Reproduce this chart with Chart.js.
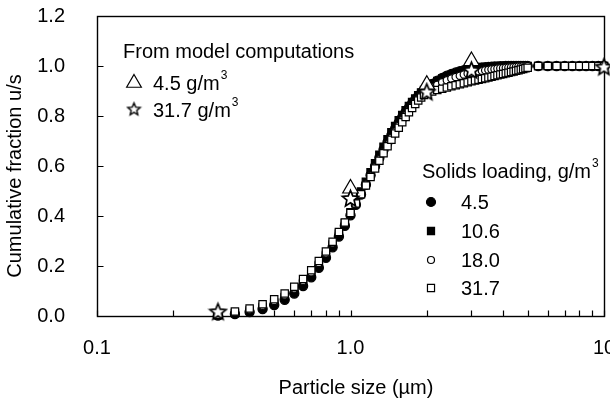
<!DOCTYPE html>
<html>
<head>
<meta charset="utf-8">
<script src="https://cdn.jsdelivr.net/npm/chart.js@4.4.0/dist/chart.umd.min.js"></script>
<style>
  html, body { margin: 0; padding: 0; background: #fff; }
  #c { display: block; }
</style>
</head>
<body>
<canvas id="c" width="610" height="401"></canvas>
<script>
// Particle size bins (µm)
const sizes = [
  0.30, 0.35, 0.40, 0.45, 0.50, 0.55, 0.60, 0.65, 0.70, 0.75,
  0.80, 0.85, 0.90, 0.95, 1.00, 1.05, 1.10, 1.15, 1.20, 1.25,
  1.30, 1.35, 1.40, 1.45, 1.50, 1.55, 1.60, 1.65, 1.70, 1.75,
  1.80, 1.85, 1.90, 1.95, 2.00,
  2.1, 2.2, 2.3, 2.4, 2.5, 2.6, 2.7, 2.8, 2.9, 3.0,
  3.1, 3.2, 3.3, 3.4, 3.5, 3.6, 3.7, 3.8, 3.9, 4.0,
  4.1, 4.2, 4.3, 4.4, 4.5, 4.6, 4.7, 4.8, 4.9, 5.0,
  5.5, 6.0, 6.5, 7.0, 7.5, 8.0, 8.5, 9.0, 9.5, 10.0
];

// Measured cumulative fraction u/s for each solids loading (g/m3)
const frac45 = [
  0.002, 0.008, 0.016, 0.028, 0.044, 0.065, 0.090, 0.120, 0.155, 0.193,
  0.233, 0.275, 0.318, 0.361, 0.403, 0.445, 0.486, 0.525, 0.563, 0.599,
  0.633, 0.665, 0.695, 0.723, 0.749, 0.773, 0.795, 0.815, 0.833, 0.850,
  0.865, 0.879, 0.891, 0.902, 0.912,
  0.928, 0.941, 0.952, 0.961, 0.968, 0.974, 0.979, 0.983, 0.986, 0.989,
  0.991, 0.993, 0.994, 0.995, 0.996, 0.997, 0.998, 0.998, 0.999, 0.999,
  1.0, 1.0, 1.0, 1.0, 1.0, 1.0, 1.0, 1.0, 1.0, 1.0,
  1.0, 1.0, 1.0, 1.0, 1.0, 1.0, 1.0, 1.0, 1.0, 1.0
];
const frac106 = [
  0.003, 0.012, 0.022, 0.036, 0.054, 0.076, 0.102, 0.132, 0.166, 0.204,
  0.244, 0.286, 0.329, 0.372, 0.415, 0.457, 0.498, 0.537, 0.575, 0.611,
  0.645, 0.677, 0.707, 0.735, 0.760, 0.783, 0.804, 0.823, 0.840, 0.856,
  0.870, 0.883, 0.894, 0.904, 0.913,
  0.928, 0.940, 0.950, 0.958, 0.965, 0.971, 0.976, 0.980, 0.983, 0.986,
  0.988, 0.990, 0.992, 0.993, 0.994, 0.995, 0.996, 0.997, 0.998, 0.998,
  0.999, 0.999, 1.0, 1.0, 1.0, 1.0, 1.0, 1.0, 1.0, 1.0,
  1.0, 1.0, 1.0, 1.0, 1.0, 1.0, 1.0, 1.0, 1.0, 1.0
];
const frac180 = [
  0.004, 0.015, 0.026, 0.041, 0.060, 0.083, 0.110, 0.141, 0.175, 0.212,
  0.251, 0.291, 0.332, 0.372, 0.412, 0.451, 0.489, 0.526, 0.561, 0.595,
  0.627, 0.657, 0.686, 0.713, 0.738, 0.761, 0.783, 0.803, 0.821, 0.838,
  0.853, 0.867, 0.879, 0.890, 0.900,
  0.914, 0.925, 0.935, 0.943, 0.950, 0.956, 0.961, 0.966, 0.970, 0.973,
  0.976, 0.979, 0.981, 0.983, 0.985, 0.987, 0.988, 0.990, 0.991, 0.992,
  0.993, 0.994, 0.995, 0.996, 0.997, 0.998, 0.998, 0.999, 0.999, 1.0,
  1.0, 1.0, 1.0, 1.0, 1.0, 1.0, 1.0, 1.0, 1.0, 1.0
];
const frac317 = [
  0.005, 0.018, 0.030, 0.047, 0.067, 0.090, 0.117, 0.148, 0.183, 0.220,
  0.258, 0.297, 0.336, 0.374, 0.412, 0.450, 0.487, 0.522, 0.556, 0.590,
  0.621, 0.651, 0.679, 0.705, 0.730, 0.753, 0.775, 0.796, 0.815, 0.832,
  0.848, 0.862, 0.874, 0.884, 0.892,
  0.898, 0.904, 0.909, 0.914, 0.919, 0.923, 0.927, 0.931, 0.935, 0.939,
  0.942, 0.945, 0.948, 0.951, 0.954, 0.957, 0.960, 0.963, 0.966, 0.968,
  0.971, 0.973, 0.976, 0.978, 0.981, 0.983, 0.986, 0.988, 0.991, 0.993,
  1.0, 1.0, 1.0, 1.0, 1.0, 1.0, 1.0, 1.0, 1.0, 1.0
];

// Model computations
const modelSizes45 = [1.0, 2.0, 3.0];
const model45 = [0.51, 0.925, 1.02];
const modelSizes317 = [0.3, 1.0, 2.0, 3.0, 10.0];
const model317 = [0.017, 0.47, 0.896, 0.983, 0.996];

// Axis ticks
const xTickValues = [0.1, 0.2, 0.3, 0.4, 0.5, 0.6, 0.7, 0.8, 0.9, 1, 2, 3, 4, 5, 6, 7, 8, 9, 10];
const xTickLabels = ['0.1', '', '', '', '', '', '', '', '', '1.0', '', '', '', '', '', '', '', '', '10'];
const yTickValues = [0, 0.2, 0.4, 0.6, 0.8, 1.0, 1.2];
const yTickLabels = ['0.0', '0.2', '0.4', '0.6', '0.8', '1.0', '1.2'];

const FONT = '"Liberation Sans", Arial, Helvetica, sans-serif';
const INK = '#000';

function makeStar(outer, lw) {
  const inner = outer * 0.45;
  const size = Math.ceil(outer * 2 + 4);
  const cv = document.createElement('canvas');
  cv.width = size; cv.height = size;
  const g = cv.getContext('2d');
  const c = size / 2;
  g.beginPath();
  for (let i = 0; i < 10; i++) {
    const r = i % 2 === 0 ? outer : inner;
    const a = -Math.PI / 2 + i * Math.PI / 5;
    const px = c + r * Math.cos(a), py = c + 0.5 + r * Math.sin(a);
    if (i === 0) g.moveTo(px, py); else g.lineTo(px, py);
  }
  g.closePath();
  g.fillStyle = '#fff';
  g.fill();
  g.lineWidth = lw;
  g.lineJoin = 'miter';
  g.strokeStyle = INK;
  g.stroke();
  return cv;
}
const starPoint = makeStar(8.5, 1.7);
const starLegend = makeStar(6.5, 1.4);

const pts = (xs, ys) => xs.map((x, i) => ({ x: x, y: ys[i] }));

function series(label, xs, ys, style, radius, fill, order, bw) {
  return {
    label: label,
    data: pts(xs, ys),
    showLine: false,
    pointStyle: style,
    pointRadius: radius,
    pointBackgroundColor: fill,
    pointBorderColor: INK,
    pointBorderWidth: bw,
    order: order,
    clip: false
  };
}

// Frame, inward tick marks, axis titles and the two legends
const decorations = {
  id: 'decorations',
  beforeDatasetsDraw(chart) {
    const { ctx, chartArea: a, scales } = chart;
    const L = Math.round(a.left) + 0.5, R = Math.round(a.right) + 0.5;
    const T = Math.round(a.top) + 0.5, B = Math.round(a.bottom) + 0.5;
    ctx.save();
    ctx.strokeStyle = INK;
    ctx.lineWidth = 1.4;
    ctx.strokeRect(L, T, R - L, B - T);
    ctx.lineWidth = 1.2;
    ctx.beginPath();
    scales.x.ticks.forEach(t => {
      const px = Math.round(scales.x.getPixelForValue(t.value)) + 0.5;
      ctx.moveTo(px, B);
      ctx.lineTo(px, B - 6);
    });
    scales.y.ticks.forEach(t => {
      const py = Math.round(scales.y.getPixelForValue(t.value)) + 0.5;
      ctx.moveTo(L, py);
      ctx.lineTo(L + 6, py);
    });
    ctx.stroke();
    ctx.restore();
  },
  afterDraw(chart) {
    const ctx = chart.ctx;
    const dp = Chart.helpers.drawPoint;
    ctx.save();
    ctx.fillStyle = '#000';
    ctx.textBaseline = 'middle';
    ctx.font = '20px ' + FONT;

    // axis titles
    ctx.textAlign = 'center';
    ctx.fillText('Particle size (\u00b5m)', 356, 388);
    ctx.save();
    ctx.translate(15, 176);
    ctx.rotate(-Math.PI / 2);
    ctx.fillText('Cumulative fraction u/s', 0, 0);
    ctx.restore();

    ctx.textAlign = 'left';
    const withCube = (txt, x, y) => {
      ctx.font = '20px ' + FONT;
      ctx.fillText(txt, x, y);
      const w = ctx.measureText(txt).width;
      ctx.font = '12px ' + FONT;
      ctx.fillText('3', x + w + 1, y - 8);
      ctx.font = '20px ' + FONT;
    };

    // model legend
    ctx.fillText('From model computations', 123, 52);
    ctx.strokeStyle = INK;
    ctx.lineWidth = 1.2;
    ctx.fillStyle = '#fff';
    dp(ctx, { pointStyle: 'triangle', radius: 8.5, borderWidth: 1.2, rotation: 0 }, 134, 83);
    dp(ctx, { pointStyle: starLegend, radius: 6, borderWidth: 1, rotation: 0 }, 134, 109);
    ctx.fillStyle = '#000';
    withCube('4.5 g/m', 153, 84);
    withCube('31.7 g/m', 153, 111);

    // measured legend
    withCube('Solids loading, g/m', 422, 172);
    const rows = [
      ['4.5', 'circle', 4.5, INK, 202],
      ['10.6', 'rect', 5, INK, 231],
      ['18.0', 'circle', 3.5, '#fff', 260],
      ['31.7', 'rect', 5, '#fff', 288]
    ];
    rows.forEach(r => {
      ctx.fillStyle = r[3];
      ctx.strokeStyle = INK;
      ctx.lineWidth = 1.2;
      dp(ctx, { pointStyle: r[1], radius: r[2], borderWidth: 1.2, rotation: 0 }, 431, r[4]);
      ctx.fillStyle = '#000';
      ctx.fillText(r[0], 461, r[4] + 1);
    });
    ctx.restore();
  }
};

new Chart(document.getElementById('c'), {
  type: 'scatter',
  data: {
    datasets: [
      series('31.7 g/m3 model', modelSizes317, model317, starPoint, 8, '#fff', 0, 1),
      series('4.5 g/m3 model', modelSizes45, model45, 'triangle', 9, '#fff', 1, 1.2),
      series('31.7', sizes, frac317, 'rect', 5.2, '#fff', 2, 1.2),
      series('18.0', sizes, frac180, 'circle', 3.7, '#fff', 3, 1.2),
      series('10.6', sizes, frac106, 'rect', 5.2, INK, 4, 1.2),
      series('4.5', sizes, frac45, 'circle', 4.6, INK, 5, 1.2)
    ]
  },
  options: {
    responsive: false,
    animation: false,
    events: [],
    layout: { autoPadding: false, padding: { left: 0, right: 6, top: 16, bottom: 0 } },
    plugins: { legend: { display: false }, tooltip: { enabled: false } },
    scales: {
      x: {
        type: 'logarithmic',
        min: 0.1,
        max: 10,
        afterBuildTicks: s => { s.ticks = xTickValues.map(v => ({ value: v })); },
        afterFit: s => { s.height = 85; s.paddingLeft = 0; s.paddingRight = 0; },
        grid: { display: false, drawTicks: false },
        border: { display: false },
        ticks: {
          autoSkip: false,
          maxRotation: 0,
          padding: 20,
          color: '#000',
          font: { family: FONT, size: 20 },
          callback: (v, i) => xTickLabels[i]
        }
      },
      y: {
        min: 0,
        max: 1.2,
        afterBuildTicks: s => { s.ticks = yTickValues.map(v => ({ value: v })); },
        afterFit: s => { s.width = 97; s.paddingTop = 0; s.paddingBottom = 0; },
        grid: { display: false, drawTicks: false },
        border: { display: false },
        ticks: {
          padding: 32,
          color: '#000',
          font: { family: FONT, size: 20 },
          callback: (v, i) => yTickLabels[i]
        }
      }
    }
  },
  plugins: [decorations]
});
</script>
</body>
</html>
